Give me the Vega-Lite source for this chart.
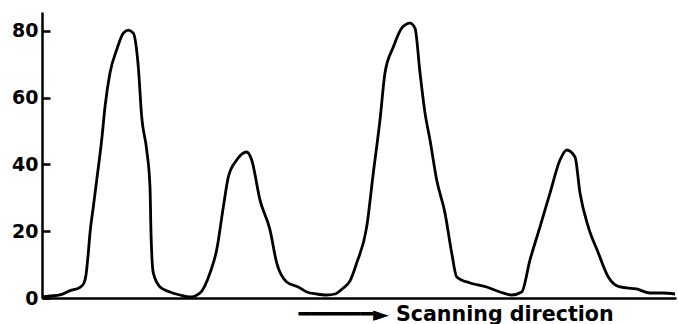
{
  "$schema": "https://vega.github.io/schema/vega-lite/v6.json",
  "width": 634,
  "height": 286,
  "autosize": "none",
  "padding": {"left": 42, "top": 12, "right": 2, "bottom": 26},
  "background": "white",
  "config": {"view": {"stroke": null}},
  "data": {"values": [
    {"pos": 1.3, "signal": 0.4}, {"pos": 8, "signal": 0.6}, {"pos": 18, "signal": 0.9}, {"pos": 28, "signal": 2.2},
    {"pos": 38, "signal": 3.2}, {"pos": 42, "signal": 4.5}, {"pos": 44, "signal": 6.9}, {"pos": 46.3, "signal": 13.5},
    {"pos": 48, "signal": 19.5}, {"pos": 51.3, "signal": 27.2}, {"pos": 54.7, "signal": 35.3}, {"pos": 59.7, "signal": 47.3},
    {"pos": 63, "signal": 57.2}, {"pos": 68, "signal": 67.4}, {"pos": 74.7, "signal": 74.3}, {"pos": 81.3, "signal": 79.3},
    {"pos": 86.3, "signal": 80.2}, {"pos": 91.3, "signal": 79.3}, {"pos": 96.3, "signal": 69.2}, {"pos": 99.7, "signal": 54.2},
    {"pos": 104.7, "signal": 44.3}, {"pos": 108, "signal": 33.2}, {"pos": 109, "signal": 19.5}, {"pos": 111.3, "signal": 7.5},
    {"pos": 118, "signal": 3.3}, {"pos": 128, "signal": 1.8}, {"pos": 138, "signal": 0.9}, {"pos": 148, "signal": 0.3},
    {"pos": 158, "signal": 1.5}, {"pos": 168, "signal": 7.5}, {"pos": 174.7, "signal": 14.4}, {"pos": 181.3, "signal": 27.2},
    {"pos": 186.3, "signal": 36.2}, {"pos": 194.7, "signal": 41.3}, {"pos": 204.7, "signal": 43.7}, {"pos": 209.7, "signal": 41.3},
    {"pos": 218, "signal": 29.3}, {"pos": 228, "signal": 20.4}, {"pos": 234.7, "signal": 10.5}, {"pos": 244.7, "signal": 4.8},
    {"pos": 256.3, "signal": 3.3}, {"pos": 264.7, "signal": 1.8}, {"pos": 274.7, "signal": 1.2}, {"pos": 284.7, "signal": 0.9},
    {"pos": 293, "signal": 1.2}, {"pos": 301.3, "signal": 3.0}, {"pos": 308, "signal": 5.1}, {"pos": 314.7, "signal": 10.5},
    {"pos": 324.7, "signal": 21.3}, {"pos": 331.3, "signal": 37.4}, {"pos": 338, "signal": 53.3}, {"pos": 343, "signal": 67.4},
    {"pos": 351.3, "signal": 75.1}, {"pos": 359.7, "signal": 80.8}, {"pos": 368, "signal": 82.3}, {"pos": 373, "signal": 80.8},
    {"pos": 378, "signal": 67.4}, {"pos": 383, "signal": 55.4}, {"pos": 388, "signal": 47.3}, {"pos": 394.7, "signal": 35.3},
    {"pos": 403, "signal": 25.4}, {"pos": 409.7, "signal": 13.5}, {"pos": 414.7, "signal": 6.3}, {"pos": 428, "signal": 4.5},
    {"pos": 444.7, "signal": 3.3}, {"pos": 458, "signal": 1.8}, {"pos": 469.7, "signal": 0.9}, {"pos": 479.7, "signal": 1.8},
    {"pos": 488, "signal": 11.4}, {"pos": 498, "signal": 21.3}, {"pos": 508, "signal": 31.4}, {"pos": 518, "signal": 41.3},
    {"pos": 524.7, "signal": 44.3}, {"pos": 533, "signal": 42.2}, {"pos": 538, "signal": 31.4}, {"pos": 546.3, "signal": 21.3},
    {"pos": 556.3, "signal": 13.5}, {"pos": 566.3, "signal": 6.3}, {"pos": 578, "signal": 3.3}, {"pos": 594.7, "signal": 2.7},
    {"pos": 608, "signal": 1.5}, {"pos": 621.3, "signal": 1.5}, {"pos": 633, "signal": 1.2}
  ]},
  "mark": {"type": "line", "color": "black", "strokeWidth": 2.8, "interpolate": "monotone"},
  "encoding": {
    "x": {
      "field": "pos", "type": "quantitative",
      "scale": {"domain": [0, 634], "nice": false, "zero": false},
      "axis": {
        "labels": false, "ticks": false, "grid": false,
        "domainColor": "black", "domainWidth": 2.5,
        "title": "━━━━━━► Scanning direction",
        "titleFont": "DejaVu Sans", "titleFontWeight": "bold", "titleFontSize": 20.6, "titleColor": "black",
        "titleAnchor": "start", "titleAlign": "left", "titleBaseline": "alphabetic",
        "titleX": 256, "titleY": 22
      }
    },
    "y": {
      "field": "signal", "type": "quantitative",
      "scale": {"domain": [0, 85.6], "nice": false},
      "axis": {
        "values": [0, 20, 40, 60, 80], "grid": false, "title": null,
        "domainColor": "black", "domainWidth": 2.5,
        "tickColor": "black", "tickWidth": 2.5, "tickSize": -8,
        "labelFont": "DejaVu Sans", "labelFontWeight": "bold", "labelFontSize": 19, "labelColor": "black",
        "labelPadding": 12
      }
    }
  }
}
